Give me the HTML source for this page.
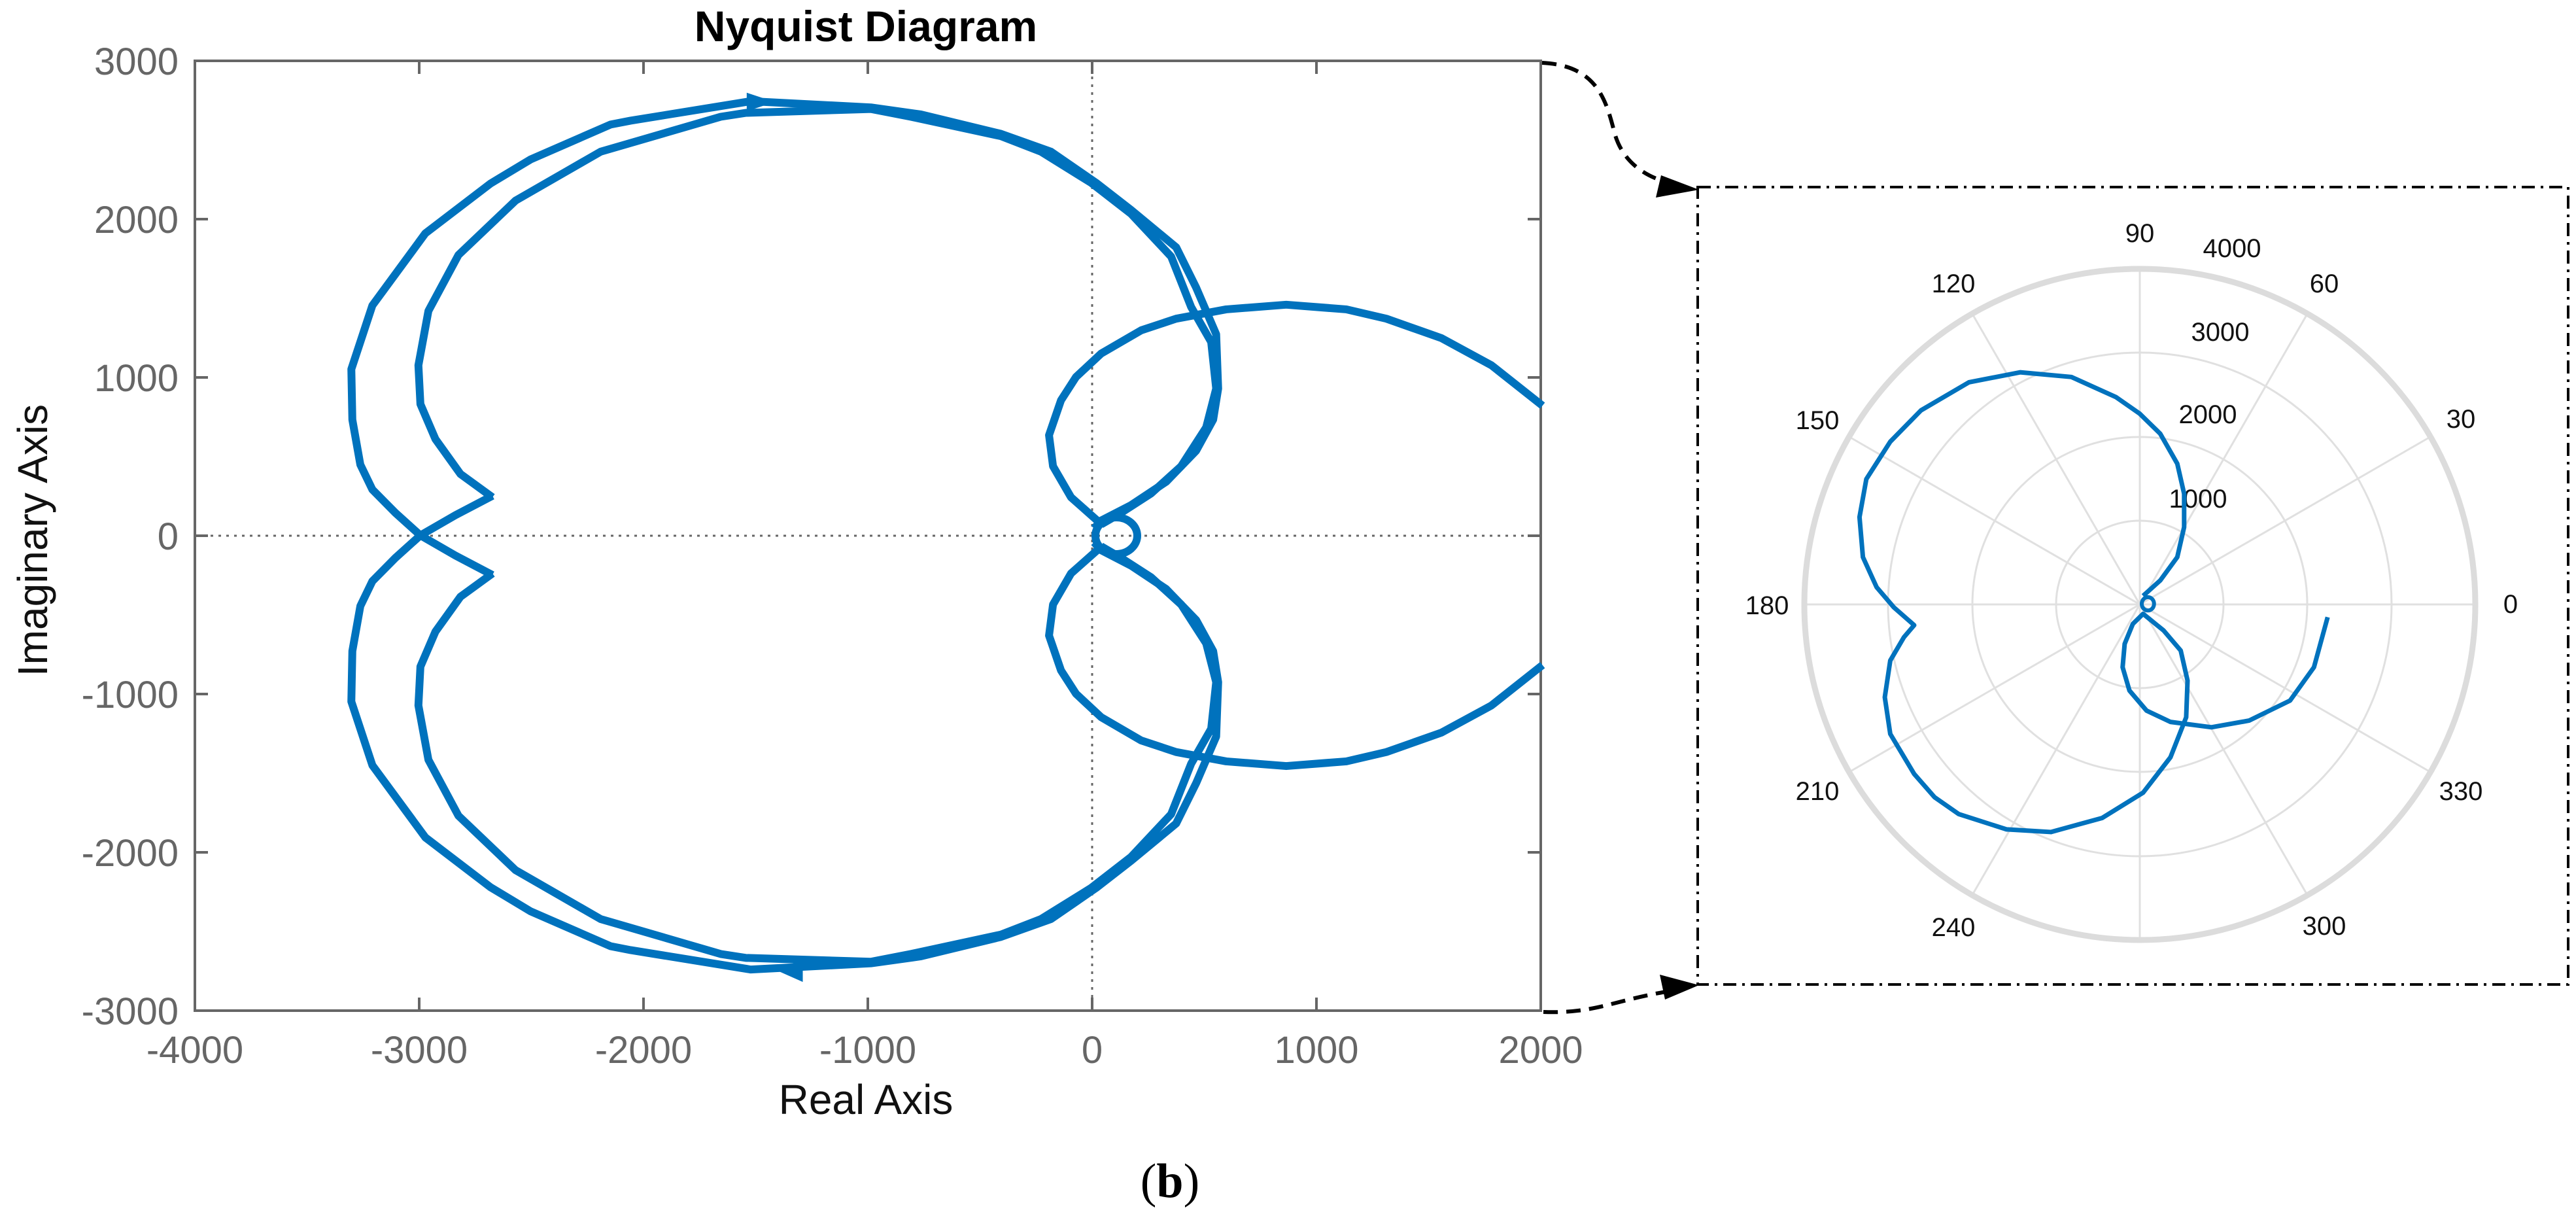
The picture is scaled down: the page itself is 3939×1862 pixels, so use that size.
<!DOCTYPE html>
<html><head><meta charset="utf-8"><style>
html,body{margin:0;padding:0;background:#fff}
svg{display:block}
</style></head><body>
<svg width="3939" height="1862" viewBox="0 0 3939 1862" xmlns="http://www.w3.org/2000/svg">
<g stroke="#666" stroke-width="4" fill="none">
<rect x="298" y="93" width="2058" height="1452"/>
<line x1="1670" y1="93" x2="1670" y2="1545" stroke-width="3" stroke-dasharray="4 8"/>
<line x1="298" y1="819" x2="2356" y2="819" stroke-width="3" stroke-dasharray="4 8"/>
<path d="M641 93v20M984 93v20M1327 93v20M1670 93v20M2013 93v20M641 1545v-20M984 1545v-20M1327 1545v-20M1670 1545v-20M2013 1545v-20"/>
<path d="M298 335h20M298 577h20M298 819h20M298 1061h20M298 1303h20M2356 335h-20M2356 577h-20M2356 819h-20M2356 1061h-20M2356 1303h-20"/>
</g>
<g font-family="Liberation Sans, sans-serif" font-size="58" fill="#666">
<g text-anchor="middle">
<text x="298" y="1625">-4000</text><text x="641" y="1625">-3000</text><text x="984" y="1625">-2000</text><text x="1327" y="1625">-1000</text><text x="1670" y="1625">0</text><text x="2013" y="1625">1000</text><text x="2356" y="1625">2000</text>
</g>
<g text-anchor="end">
<text x="273" y="114">3000</text><text x="273" y="356">2000</text><text x="273" y="598">1000</text><text x="273" y="840">0</text><text x="273" y="1082">-1000</text><text x="273" y="1324">-2000</text><text x="273" y="1566">-3000</text>
</g>
</g>
<text x="1324" y="63" text-anchor="middle" font-family="Liberation Sans, sans-serif" font-weight="bold" font-size="66" fill="#000">Nyquist Diagram</text>
<text x="1324" y="1703" text-anchor="middle" font-family="Liberation Sans, sans-serif" font-size="64" fill="#111">Real Axis</text>
<text transform="translate(72,826) rotate(-90)" text-anchor="middle" font-family="Liberation Sans, sans-serif" font-size="64" fill="#111">Imaginary Axis</text>
<text x="1789" y="1830" text-anchor="middle" font-family="Liberation Serif, serif" font-size="74" fill="#000">(<tspan font-weight="bold">b</tspan>)</text>

<g transform="matrix(1.5306 0 0 1.1873 0 0.4)">
<g fill="none" stroke="#0072BD" stroke-width="12" vector-effect="non-scaling-stroke" stroke-linejoin="round">
<g>
<polyline vector-effect="non-scaling-stroke" points="1093,680 1100,670 1130,650 1165,620 1195,580 1212,540 1217,500 1215,430 1195,370 1175,318 1130,270 1095,235 1050,195 1000,172 920,147 870,138 750,130 630,155 610,160 530,205 490,236 425,300 372,393 351,475 352,540 360,598 372,630 395,660 420,689 455,715 492,740"/>
<polyline vector-effect="non-scaling-stroke" points="492,640 460,610 435,565 420,520 418,470 428,400 458,328 515,258 600,195 640,180 720,150 745,145 870,140 910,150 1000,175 1040,195 1090,235 1130,275 1170,330 1190,395 1210,440 1215,500 1205,550 1180,600 1150,635 1120,660 1100,675"/>
<polyline vector-effect="non-scaling-stroke" points="1098,672 1070,640 1052,600 1048,560 1060,515 1075,485 1100,455 1140,425 1175,410 1225,398 1285,392 1345,398 1385,410 1440,435 1490,470 1541,522"/>
</g>
<g transform="matrix(1 0 0 -1 0 1378)">
<polyline vector-effect="non-scaling-stroke" points="1093,680 1100,670 1130,650 1165,620 1195,580 1212,540 1217,500 1215,430 1195,370 1175,318 1130,270 1095,235 1050,195 1000,172 920,147 870,138 750,130 630,155 610,160 530,205 490,236 425,300 372,393 351,475 352,540 360,598 372,630 395,660 420,689 455,715 492,740"/>
<polyline vector-effect="non-scaling-stroke" points="492,640 460,610 435,565 420,520 418,470 428,400 458,328 515,258 600,195 640,180 720,150 745,145 870,140 910,150 1000,175 1040,195 1090,235 1130,275 1170,330 1190,395 1210,440 1215,500 1205,550 1180,600 1150,635 1120,660 1100,675"/>
<polyline vector-effect="non-scaling-stroke" points="1098,672 1070,640 1052,600 1048,560 1060,515 1075,485 1100,455 1140,425 1175,410 1225,398 1285,392 1345,398 1385,410 1440,435 1490,470 1541,522"/>
</g>
</g>
<polygon points="746,119 746,143 774,131" fill="#0072BD"/>
<polygon points="802,1236 802,1264 774,1248" fill="#0072BD"/>
</g>
<ellipse cx="1707" cy="819" rx="32" ry="28" fill="none" stroke="#0072BD" stroke-width="12"/>

<g fill="none" stroke="#000" stroke-width="6" stroke-dasharray="22 13">
<path d="M2358,96 C2440,100 2455,150 2468,200 C2480,250 2520,272 2555,280"/>
<path d="M2360,1547 C2440,1550 2470,1528 2555,1515"/>
</g>
<polygon points="2598,290 2540,268 2532,302" fill="#000"/>
<polygon points="2598,1506 2538,1490 2546,1528" fill="#000"/>
<rect x="2596" y="286" width="1331" height="1219" fill="none" stroke="#000" stroke-width="4" stroke-dasharray="20 9 4 9"/>

<g stroke="#e0e0e0" stroke-width="3" fill="none">
<circle cx="3272" cy="924" r="128"/>
<circle cx="3272" cy="924" r="256"/>
<circle cx="3272" cy="924" r="385"/>
<line x1="2759" y1="924" x2="3785" y2="924"/>
<line x1="3272" y1="411" x2="3272" y2="1437"/>
<line x1="3016" y1="480" x2="3528" y2="1368"/>
<line x1="3528" y1="480" x2="3016" y2="1368"/>
<line x1="2828" y1="668" x2="3716" y2="1180"/>
<line x1="3716" y1="668" x2="2828" y2="1180"/>
</g>
<circle cx="3272" cy="924" r="513" fill="none" stroke="#dcdcdc" stroke-width="9"/>
<g font-family="Liberation Sans, sans-serif" font-size="40" fill="#111" text-anchor="middle" dominant-baseline="central">
<text x="3272" y="357">90</text><text x="3554" y="434">60</text><text x="3763" y="641">30</text><text x="3839" y="924">0</text>
<text x="3763" y="1210">330</text><text x="3554" y="1416">300</text><text x="2987" y="1418">240</text><text x="2779" y="1210">210</text>
<text x="2702" y="926">180</text><text x="2779" y="643">150</text><text x="2987" y="434">120</text>
<text x="3413" y="380">4000</text><text x="3395" y="508">3000</text><text x="3376" y="634">2000</text><text x="3361" y="763">1000</text>
</g>
<g transform="matrix(1.045 0 0 1.02 2300 0)">
<polyline fill="none" stroke="#0072BD" stroke-width="7" vector-effect="non-scaling-stroke" stroke-linejoin="round" points="935,893 960,870 985,835 995,790 995,740 985,695 960,650 930,620 895,595 830,565 755,558 680,573 610,615 565,662 530,718 520,775 525,835 545,880 570,910 600,937 585,955 565,990 557,1045 565,1100 600,1160 630,1195 665,1220 735,1243 800,1247 875,1226 935,1188 975,1135 998,1075 1000,1020 990,975 965,945 935,920 920,935 908,965 905,1000 915,1035 940,1065 975,1082 1035,1090 1090,1080 1150,1050 1185,1000 1205,925"/>
<ellipse cx="942" cy="905" rx="9" ry="10" fill="none" stroke="#0072BD" stroke-width="6" vector-effect="non-scaling-stroke"/>
</g>
</svg>
</body></html>
